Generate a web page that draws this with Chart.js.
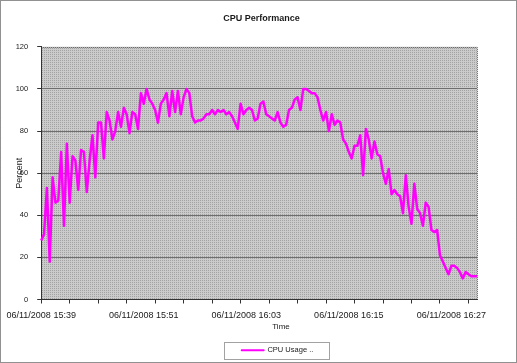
<!DOCTYPE html>
<html>
<head>
<meta charset="utf-8">
<title>CPU Performance</title>
<script src="https://cdn.jsdelivr.net/npm/chart.js@4/dist/chart.umd.min.js"></script>
<style>
  html, body { margin: 0; padding: 0; background: #fff; }
  #wrap { width: 517px; height: 363px; position: relative; }
</style>
</head>
<body>
<div id="wrap"><canvas id="cpuChart"></canvas></div>
<script>
// chart text
const chartTitle = 'CPU Performance';
const seriesName = 'CPU Usage ..';
const xTitle = 'Time';
const yTitle = 'Percent';

// time axis: one sample every 20 s from 15:39, label every 36 samples, tick mark every 10
const datePart = '06/11/2008';
const startMinutes = 15 * 60 + 39;
const sampleSeconds = 20;
const labelEvery = 36;
const tickEvery = 10;

// y axis
const yMin = 0;
const yMax = 120;
const yStep = 20;

// CPU usage (%)
const cpuUsage = [
  28, 31, 53, 18, 58, 46, 47, 70, 35, 74,
  46, 68, 66, 52, 71, 70, 51, 66, 78, 58,
  84, 84, 67, 89, 85, 76, 80, 89, 82, 91,
  88, 79, 89, 88, 81, 98, 93, 100, 95, 93,
  90, 84, 93, 95, 98, 87, 99, 89, 99, 88,
  96, 100, 98, 87, 84, 85, 85, 86, 88, 88,
  90, 88, 90, 89, 90, 88, 89, 87, 84, 81,
  93, 88, 90, 91, 90, 85, 86, 93, 94, 88,
  87, 86, 85, 89, 84, 82, 83, 90, 91, 95,
  96, 90, 100, 100, 99, 98, 98, 96, 90, 85,
  89, 80, 88, 83, 85, 84, 76, 74, 70, 67,
  73, 73, 78, 59, 81, 76, 67, 75, 69, 68,
  60, 55, 62, 50, 52, 50, 49, 41, 59, 44,
  36, 55, 43, 41, 35, 46, 44, 33, 32, 33,
  21, 18, 15, 12, 16, 16, 15, 13, 10, 13,
  12, 11, 11, 11
];

// build the time labels for each sample
const timeLabels = cpuUsage.map((v, i) => {
  const mins = startMinutes + Math.floor(i * sampleSeconds / 60);
  const hh = String(Math.floor(mins / 60)).padStart(2, '0');
  const mm = String(mins % 60).padStart(2, '0');
  return datePart + ' ' + hh + ':' + mm;
});

const fontFamily = '"Liberation Sans", Arial, sans-serif';
const textColor = '#1a1a1a';

// grey dotted fill like the Excel plot area
function makeTile() {
  const c = document.createElement('canvas');
  c.width = 2; c.height = 2;
  const t = c.getContext('2d');
  t.fillStyle = '#cbcbcb';
  t.fillRect(0, 0, 2, 2);
  t.fillStyle = '#a2a2a2';
  t.fillRect(0, 0, 1, 1);
  return c;
}

// Excel left the title, legend and axis title off-centre; move the boxes to match
const shiftBoxes = {
  id: 'shiftBoxes',
  afterLayout(chart) {
    const t = chart.titleBlock;
    t.left += 23; t.right += 23;
    const l = chart.legend;
    l.left += 39; l.right += 39;
    l.top += 4; l.bottom += 4;
  }
};

const plotBackground = {
  id: 'plotBackground',
  beforeDraw(chart) {
    const { ctx, chartArea: a } = chart;
    ctx.save();
    ctx.fillStyle = ctx.createPattern(makeTile(), 'repeat');
    ctx.fillRect(a.left, a.top, a.right - a.left, a.bottom - a.top);
    ctx.strokeStyle = '#555';
    ctx.lineWidth = 1;
    ctx.setLineDash([1, 1]);
    ctx.beginPath();
    ctx.moveTo(a.left, Math.round(a.top) + 0.5);
    ctx.lineTo(Math.round(a.right) + 0.5, Math.round(a.top) + 0.5);
    ctx.lineTo(Math.round(a.right) + 0.5, a.bottom);
    ctx.stroke();
    ctx.restore();
  }
};

const frames = {
  id: 'frames',
  afterDraw(chart) {
    const ctx = chart.ctx;
    ctx.save();
    // axis title under the time labels
    ctx.fillStyle = textColor;
    ctx.font = '8px ' + fontFamily;
    ctx.textAlign = 'center';
    ctx.textBaseline = 'middle';
    ctx.fillText(xTitle, 281, 327);

    ctx.lineWidth = 1;
    ctx.setLineDash([1, 1]);
    ctx.strokeStyle = '#222';
    ctx.strokeRect(0.5, 0.5, chart.width - 1, chart.height - 1);
    // box round the legend entry
    const hb = chart.legend.legendHitBoxes[0];
    if (hb) {
      ctx.strokeStyle = '#444';
      const x0 = Math.round(hb.left - 18) + 0.5;
      const x1 = Math.round(hb.left + hb.width + 16) + 0.5;
      const y0 = Math.round(hb.top + hb.height / 2 - 8) + 0.5;
      ctx.strokeRect(x0, y0, x1 - x0, 17);
    }
    ctx.restore();
  }
};

new Chart(document.getElementById('cpuChart'), {
  type: 'line',
  data: {
    labels: timeLabels,
    datasets: [{
      label: seriesName,
      data: cpuUsage,
      borderColor: '#ff00ff',
      backgroundColor: '#ff00ff',
      borderWidth: 2.5,
      pointRadius: 0,
      tension: 0,
      borderJoinStyle: 'round'
    }]
  },
  options: {
    responsive: true,
    maintainAspectRatio: false,
    animation: false,
    layout: { padding: { left: 0, right: 40, top: 0, bottom: 3 } },
    plugins: {
      title: {
        display: true,
        text: chartTitle,
        color: textColor,
        font: { family: fontFamily, size: 9, weight: 'bold' },
        padding: { top: 13, bottom: 23 }
      },
      legend: {
        position: 'bottom',
        labels: {
          color: textColor,
          font: { family: fontFamily, size: 7.5 },
          boxWidth: 22,
          boxHeight: 0,
          padding: 8,
          generateLabels(chart) {
            const items = Chart.defaults.plugins.legend.labels.generateLabels(chart);
            items.forEach(it => { it.lineWidth = 2; });
            return items;
          }
        }
      },
      tooltip: { enabled: false }
    },
    scales: {
      x: {
        type: 'category',
        border: { color: '#333', width: 1 },
        grid: {
          drawOnChartArea: false,
          tickLength: 4,
          tickColor: c => (c.index % tickEvery === 0 ? '#333' : 'rgba(0,0,0,0)')
        },
        ticks: {
          autoSkip: false,
          maxRotation: 0,
          minRotation: 0,
          padding: 6.5,
          color: textColor,
          font: { family: fontFamily, size: 9 },
          callback: (v, i) => (i % labelEvery === 0 ? timeLabels[i] : '')
        },
        title: { display: false },
        afterFit: s => { s.height = 35; }
      },
      y: {
        min: yMin,
        max: yMax,
        border: { color: '#333', width: 1 },
        grid: {
          color: c => (c.tick && c.tick.value === yMax ? 'rgba(0,0,0,0)' : '#6e6e6e'),
          tickColor: '#333',
          tickLength: 4
        },
        ticks: {
          stepSize: yStep,
          padding: 9,
          color: textColor,
          font: { family: fontFamily, size: 7.5 }
        },
        title: {
          display: true,
          text: yTitle,
          color: textColor,
          font: { family: fontFamily, size: 9 },
          padding: { top: 12.5, bottom: 0 }
        },
        afterFit: s => { s.width = 40; }
      }
    }
  },
  plugins: [shiftBoxes, plotBackground, frames]
});
</script>
</body>
</html>
